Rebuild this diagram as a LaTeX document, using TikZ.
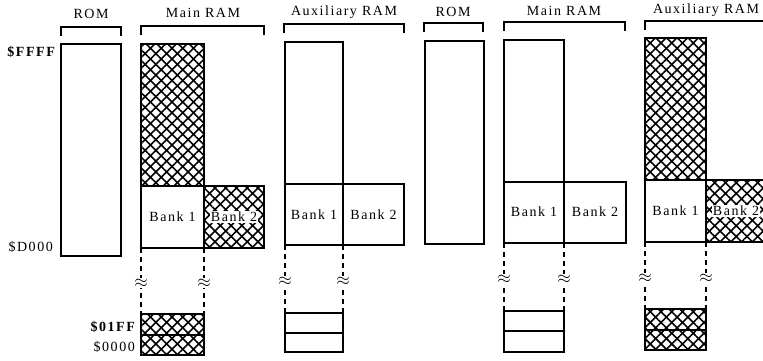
\documentclass[tikz,border=0pt]{standalone}
\usepackage{fontspec}
\setmainfont{Liberation Serif}[LetterSpace=11]
\usetikzlibrary{patterns.meta}
\tikzset{
  box/.style={draw=black,line width=1.2pt},
  hatch/.style={pattern={Lines[angle=45,distance=7.6pt,line width=1.6pt]}},
  hatchb/.style={pattern={Lines[angle=-45,distance=7.6pt,line width=1.6pt]}},
  brk/.style={draw=black,line width=1.2pt},
  lbl/.style={font=\fontsize{14}{16}\selectfont,inner sep=0pt},
  bank/.style={font=\fontsize{14}{16}\selectfont,inner sep=1pt},
  addr/.style={font=\fontsize{14}{16}\selectfont,inner sep=0pt,anchor=east},
  dsh/.style={line width=1.1pt,dash pattern=on 5pt off 4pt},
  wav/.style={inner sep=0.5pt,font=\fontsize{17}{18}\selectfont},
}
\newcommand{\hatchrect}[4]{%
  \fill[hatch] (#1,#2) rectangle (#3,#4);
  \fill[hatchb] (#1,#2) rectangle (#3,#4);
}
\begin{document}
\begin{tikzpicture}[x=1pt,y=-1pt]
\useasboundingbox (0,0) rectangle (763,360);
% ---------------- LEFT PANEL ----------------
% ROM
\node[lbl] (romA) at (91,14) {ROM};
\draw[brk] (61,36) -- (61,27) -- (121,27) -- (121,36);
\draw[box] (61,44) rectangle (121,256);
\node[addr,font=\bfseries\fontsize{14}{16}\selectfont] (ffffA) at (55,52) {\$FFFF};
\node[addr] (d000A) at (53,247) {\$D000};
% Main RAM
\node[lbl] (mainA) at (203,13) {Main RAM};
\draw[brk] (141,35) -- (141,26) -- (264,26) -- (264,35);
\hatchrect{141}{44}{204}{186}
\hatchrect{204}{186}{264}{248}
\draw[box] (141,44) rectangle (204,248);
\draw[box] (141,186) -- (264,186) -- (264,248) -- (204,248);
\node[bank] (b1A) at (172.5,217) {Bank 1};
\node[bank,fill=white] (b2A) at (234,217) {Bank 2};
\draw[dsh] (141,248) -- (141,314);
\draw[dsh] (204,248) -- (204,314);
\node[wav,fill=white] (wA1) at (141,283) {$\approx$};
\node[wav,fill=white] (wA2) at (204,283) {$\approx$};
\hatchrect{141}{314}{204}{355}
\draw[box] (141,314) rectangle (204,355);
\draw[box] (141,335) -- (204,335);
\node[addr,font=\bfseries\fontsize{14}{16}\selectfont] (a01A) at (135,327) {\$01FF};
\node[addr] (a00A) at (135,347) {\$0000};
% Auxiliary RAM
\node[lbl] (auxA) at (344,12) {Auxiliary RAM};
\draw[brk] (284,33) -- (284,24) -- (404,24) -- (404,33);
\draw[box] (285,42) rectangle (343,245);
\draw[box] (285,184) -- (404,184) -- (404,245) -- (343,245);
\node[bank] (b1B) at (314,215) {Bank 1};
\node[bank] (b2B) at (373.5,215) {Bank 2};
\draw[dsh] (285,245) -- (285,313);
\draw[dsh] (343,245) -- (343,313);
\node[wav,fill=white] (wB1) at (285,281) {$\approx$};
\node[wav,fill=white] (wB2) at (343,281) {$\approx$};
\draw[box] (285,313) rectangle (343,352);
\draw[box] (285,333) -- (343,333);
% ---------------- RIGHT PANEL ----------------
% ROM
\node[lbl] (romB) at (453,12) {ROM};
\draw[brk] (424,32) -- (424,23) -- (483,23) -- (483,32);
\draw[box] (425,41) rectangle (484,244);
% Main RAM
\node[lbl] (mainB) at (564,11) {Main RAM};
\draw[brk] (504,31) -- (504,22) -- (625,22) -- (625,31);
\draw[box] (504,40) rectangle (564,243);
\draw[box] (504,182) -- (626,182) -- (626,243) -- (564,243);
\node[bank] (b1C) at (534,212) {Bank 1};
\node[bank] (b2C) at (595,212) {Bank 2};
\draw[dsh] (504,243) -- (504,311);
\draw[dsh] (564,243) -- (564,311);
\node[wav,fill=white] (wC1) at (504,279) {$\approx$};
\node[wav,fill=white] (wC2) at (564,279) {$\approx$};
\draw[box] (504,311) rectangle (564,352);
\draw[box] (504,331) -- (564,331);
% Auxiliary RAM
\node[lbl] (auxB) at (706,10) {Auxiliary RAM};
\draw[brk] (645,30) -- (645,21) -- (763,21);
\hatchrect{645}{38}{706}{180}
\hatchrect{706}{180}{763}{242}
\draw[box] (645,38) rectangle (706,242);
\draw[box] (645,180) -- (763,180);
\draw[box] (706,242) -- (763,242);
\node[bank] (b1D) at (675.5,211) {Bank 1};
\node[bank,fill=white] (b2D) at (736,211) {Bank 2};
\draw[dsh] (645,242) -- (645,309);
\draw[dsh] (706,242) -- (706,309);
\node[wav,fill=white] (wD1) at (645,278) {$\approx$};
\node[wav,fill=white] (wD2) at (706,278) {$\approx$};
\hatchrect{645}{309}{706}{350}
\draw[box] (645,309) rectangle (706,350);
\draw[box] (645,330) -- (706,330);
\end{tikzpicture}
\end{document}
